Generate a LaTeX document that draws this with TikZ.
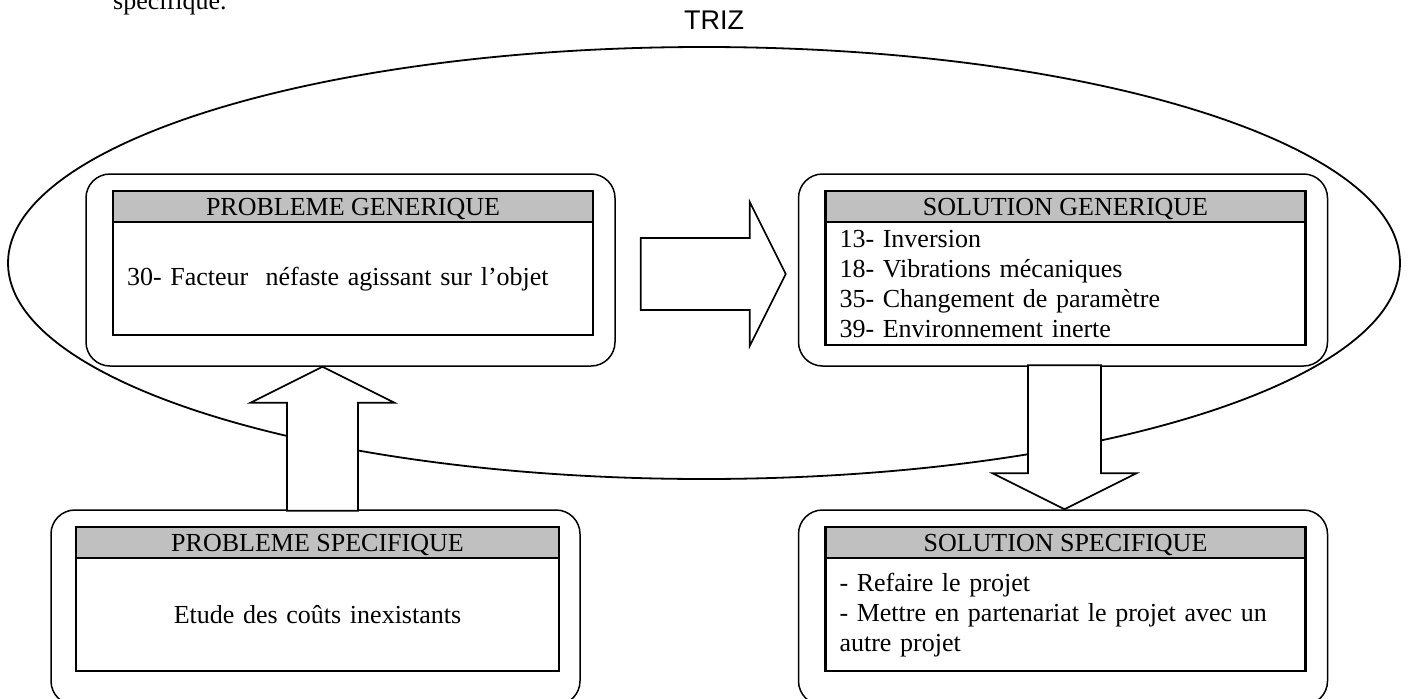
\documentclass[tikz,border=0pt]{standalone}
\usepackage{fontspec}
\setmainfont{Liberation Serif}
\newfontfamily\trizfont{Liberation Sans}
\usetikzlibrary{shapes.geometric, positioning}
\definecolor{headgray}{RGB}{192,192,192}

\begin{document}
\begin{tikzpicture}[x=1pt, y=-1pt, font=\fontsize{26pt}{30pt}\selectfont,
  outerbox/.style={draw, line width=1.5pt, rounded corners=24pt, fill=white, minimum width=529pt, minimum height=192pt},
  headbox/.style={draw, line width=2.2pt, fill=headgray, outer sep=0pt, inner sep=0pt, minimum width=480pt, minimum height=31pt, text height=18pt, text depth=0pt},
  bodybox/.style={draw, line width=2.2pt, outer sep=0pt, inner xsep=14pt, inner ysep=0pt, text width=452pt, minimum height=113pt},
  blockarrow/.style={draw, line width=1.6pt, fill=white}]
\useasboundingbox (0,0) rectangle (1409,699);
\clip (0,0) rectangle (1409,699);
\node[anchor=base west, inner sep=0pt] (prev) at (113,9) {spécifique.};
\node[draw, ellipse, line width=1.8pt, inner sep=0pt, minimum width=1392pt, minimum height=432pt] (triz) at (704,263) {};
\node[anchor=base, inner sep=0pt, font=\trizfont\fontsize{27pt}{30pt}\selectfont] (trizlabel) at (714,29) {TRIZ};

% generic level
\node[outerbox] (pg) at (350.5,270) {};
\node[headbox, below=18pt of pg.north, xshift=2.5pt] (pgh) {PROBLEME GENERIQUE};
\node[bodybox, below=0pt of pgh, align=left] (pgb) {30- Facteur~ néfaste agissant sur l’objet};
\node[outerbox] (sg) at (1063,270) {};
\node[headbox, below=18pt of sg.north, xshift=2.5pt] (sgh) {SOLUTION GENERIQUE};
\node[bodybox, below=0pt of sgh, minimum height=123pt, align=left] (sgb) {13- Inversion\\18- Vibrations mécaniques\\35- Changement de paramètre\\39- Environnement inerte};

% specific level
\node[outerbox, minimum height=195pt] (ps) at (315.5,607.5) {};
\node[headbox, minimum width=483pt, below=18pt of ps.north, xshift=2pt] (psh) {PROBLEME SPECIFIQUE};
\node[bodybox, text width=455pt, below=0pt of psh, align=center] (psb) {Etude des coûts inexistants};
\node[outerbox, minimum height=195pt] (ss) at (1063,607.5) {};
\node[headbox, below=18pt of ss.north, xshift=2.5pt] (ssh) {SOLUTION SPECIFIQUE};
\node[bodybox, below=0pt of ssh, align=left] (ssb) {- Refaire le projet\\- Mettre en partenariat le projet avec un\\autre projet};

% block arrows
\draw[blockarrow] ([xshift=-12pt, yshift=-4pt]sg.west) -- ++(-36,-72) -- ++(0,36) -- ++(-109,0) -- ++(0,72) -- ++(109,0) -- ++(0,36) -- cycle;
\draw[blockarrow] ([xshift=-28pt]pg.south) -- ++(72,36) -- ++(-36.5,0) -- ++(0,108) -- ++(-71,0) -- ++(0,-108) -- ++(-36.5,0) -- cycle;
\draw[blockarrow] ([xshift=1.5pt]ss.north) -- ++(-72,-36) -- ++(35.5,0) -- ++(0,-108) -- ++(73,0) -- ++(0,108) -- ++(35.5,0) -- cycle;
\end{tikzpicture}
\end{document}
